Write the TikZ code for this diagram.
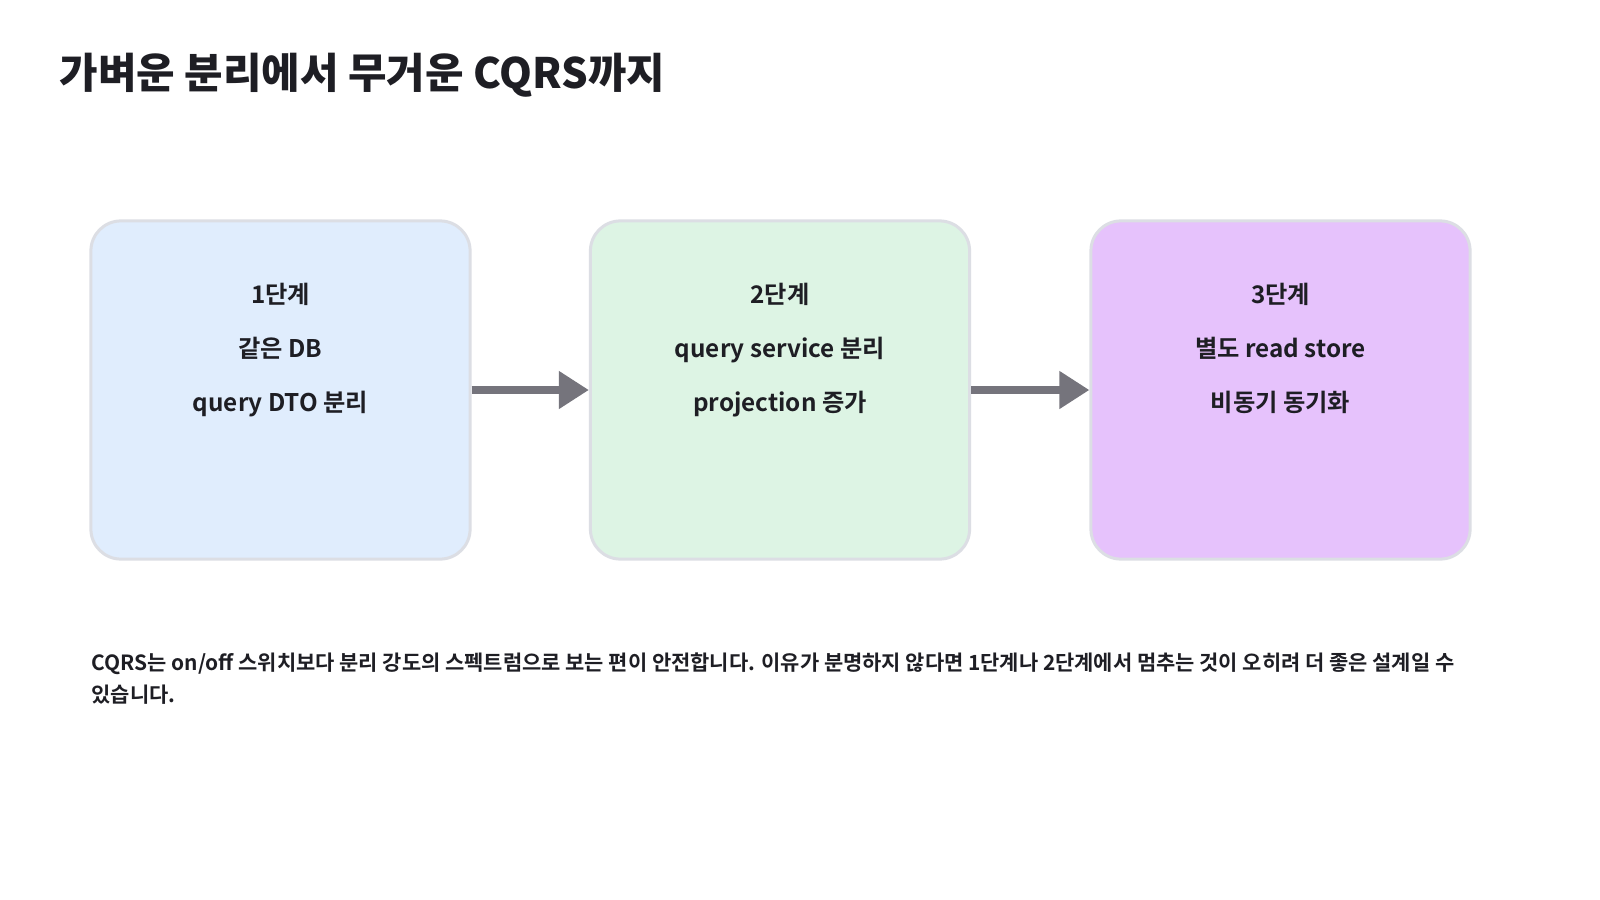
\documentclass[tikz,border=0pt]{standalone}
\usepackage{fontspec}
\setmainfont{Noto Sans CJK KR}[BoldFont={* Bold}]
\newfontfamily\heavyfont{Noto Sans CJK KR Black}
\usetikzlibrary{arrows.meta,positioning,calc}

\tikzset{
    stagebox/.style={draw=boxline, line width=0.03cm, rounded corners=0.3cm,
        minimum width=3.79cm, minimum height=3.38cm, inner sep=0pt},
    stagetext/.style={anchor=north, align=center, text=ink, inner sep=0pt,
        font=\bfseries\fontsize{6.9pt}{15.4pt}\selectfont},
    flow/.style={draw=arrowgray, line width=0.08cm,
        -{Triangle[length=0.3cm,width=0.36cm]}}
}

\begin{document}
\begin{tikzpicture}[x=0.01cm,y=-0.01cm]
    % Colori
    \definecolor{ink}{HTML}{1E1E24}
    \definecolor{boxline}{HTML}{DCDEE4}
    \definecolor{arrowgray}{HTML}{75747C}
    \definecolor{stageone}{HTML}{E0EDFD}
    \definecolor{stagetwo}{HTML}{DDF4E4}
    \definecolor{stagethree}{HTML}{E6C2FC}

    \useasboundingbox[fill=white] (0,0) rectangle (1600,900);

    % Titolo
    \node[anchor=west, inner sep=0pt, text=ink, font=\heavyfont\fontsize{11.9pt}{14pt}\selectfont]
        (title) at (59,75) {가벼운 분리에서 무거운 CQRS까지};

    % Tre stadi
    \node[stagebox, fill=stageone] (s1) at (280.5,390) {};
    \node[stagebox, fill=stagetwo] (s2) at (780,390) {};
    \node[stagebox, fill=stagethree] (s3) at (1280.5,390) {};

    \node[stagetext] (t1) at ($(s1.north)+(0,63)$) {1단계\\같은 DB\\query DTO 분리};
    \node[stagetext] (t2) at ($(s2.north)+(0,63)$) {2단계\\query service 분리\\projection 증가};
    \node[stagetext] (t3) at ($(s3.north)+(0,63)$) {3단계\\별도 read store\\비동기 동기화};

    % Frecce
    \draw[flow] (s1.east) -- (s2.west);
    \draw[flow] (s2.east) -- (s3.west);

    % Nota in basso
    \node[anchor=west, align=left, inner sep=0pt, text=ink,
        font=\bfseries\fontsize{5.95pt}{9.1pt}\selectfont] (note) at (91,679)
        {CQRS는 on/off 스위치보다 분리 강도의 스펙트럼으로 보는 편이 안전합니다. 이유가 분명하지 않다면 1단계나 2단계에서 멈추는 것이 오히려 더 좋은 설계일 수\\있습니다.};
\end{tikzpicture}
\end{document}
